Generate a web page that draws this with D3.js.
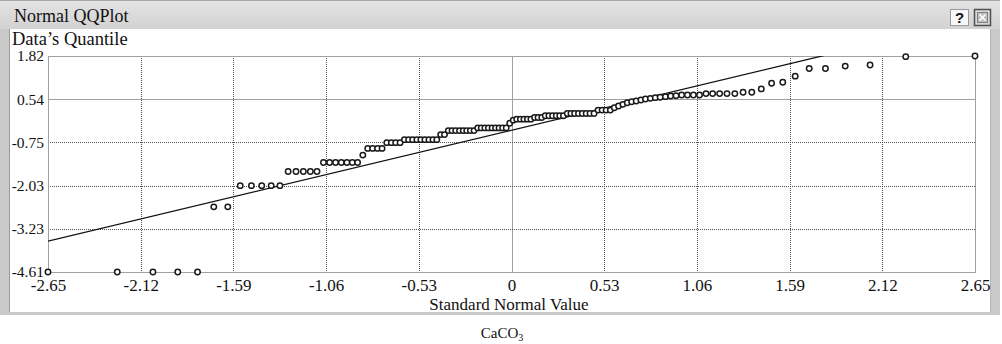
<!DOCTYPE html>
<html>
<head>
<meta charset="utf-8">
<script src="https://cdn.jsdelivr.net/npm/d3@7"></script>
<style>
  html, body { margin: 0; padding: 0; background: #ffffff; }
  svg { display: block; }
  text { font-family: "Liberation Serif", "Times New Roman", serif; fill: #111; }
</style>
</head>
<body>
<svg id="chart" width="1002" height="344"></svg>
<script>
// ---------- data ----------
const chartTitle = "Normal QQPlot";
const yAxisTitle = "Data\u2019s Quantile";
const xAxisTitle = "Standard Normal Value";

// theoretical (standard normal) quantiles of the 124 points
const normalQuantiles = [
  -2.65, -2.254, -2.050, -1.908, -1.795, -1.702, -1.622, -1.551, -1.487, -1.428,
  -1.374, -1.324, -1.277, -1.232, -1.190, -1.150, -1.112, -1.075, -1.040, -1.006,
  -0.973, -0.941, -0.910, -0.880, -0.850, -0.822, -0.794, -0.766, -0.740, -0.713,
  -0.687, -0.662, -0.637, -0.612, -0.588, -0.565, -0.541, -0.518, -0.495, -0.472,
  -0.449, -0.427, -0.405, -0.383, -0.361, -0.340, -0.319, -0.297, -0.276, -0.256,
  -0.235, -0.214, -0.193, -0.173, -0.152, -0.132, -0.111, -0.091, -0.071, -0.051,
  -0.030, -0.010,
  0.010, 0.030, 0.051, 0.071, 0.091, 0.111, 0.132, 0.152, 0.173, 0.193,
  0.214, 0.235, 0.256, 0.276, 0.297, 0.319, 0.340, 0.361, 0.383, 0.405,
  0.427, 0.449, 0.472, 0.495, 0.518, 0.541, 0.565, 0.588, 0.612, 0.637,
  0.662, 0.687, 0.713, 0.740, 0.766, 0.794, 0.822, 0.850, 0.880, 0.910,
  0.941, 0.973, 1.006, 1.040, 1.075, 1.112, 1.150, 1.190, 1.232, 1.277,
  1.324, 1.374, 1.428, 1.487, 1.551, 1.622, 1.702, 1.795, 1.908, 2.050,
  2.254, 2.65
];

// sorted sample quantiles (CaCO3)
const dataQuantiles = [
  -4.61, -4.61, -4.61, -4.61, -4.61, -2.67, -2.67, -2.04, -2.04, -2.04,
  -2.04, -2.04, -1.62, -1.62, -1.62, -1.62, -1.62, -1.35, -1.35, -1.35,
  -1.35, -1.35, -1.35, -1.35, -1.13, -0.93, -0.93, -0.93, -0.93, -0.76,
  -0.76, -0.76, -0.76, -0.67, -0.67, -0.67, -0.67, -0.67, -0.67, -0.67,
  -0.67, -0.67, -0.52, -0.52, -0.40, -0.40, -0.40, -0.40, -0.40, -0.40,
  -0.40, -0.40, -0.32, -0.32, -0.32, -0.32, -0.32, -0.32, -0.32, -0.32,
  -0.32, -0.18,
  -0.09, -0.06, -0.06, -0.06, -0.06, -0.06, -0.01, -0.01, -0.01, 0.04,
  0.04, 0.04, 0.04, 0.04, 0.04, 0.11, 0.11, 0.11, 0.11, 0.11,
  0.11, 0.11, 0.11, 0.21, 0.21, 0.21, 0.21, 0.28, 0.33, 0.38,
  0.43, 0.46, 0.48, 0.51, 0.54, 0.56, 0.58, 0.59, 0.61, 0.63,
  0.64, 0.66, 0.66, 0.66, 0.66, 0.70, 0.70, 0.70, 0.70, 0.70,
  0.74, 0.74, 0.84, 1.01, 1.04, 1.22, 1.45, 1.45, 1.52, 1.55,
  1.80, 1.82
];

// reference line  y = lineIntercept + lineSlope * z
const lineIntercept = -0.39;
const lineSlope = 1.245;

const xTickValues = [-2.65, -2.12, -1.59, -1.06, -0.53, 0, 0.53, 1.06, 1.59, 2.12, 2.65];
const xTickLabels = ["-2.65", "-2.12", "-1.59", "-1.06", "-0.53", "0", "0.53", "1.06", "1.59", "2.12", "2.65"];
const yTickLabels = ["-4.61", "-3.23", "-2.03", "-0.75", "0.54", "1.82"];
const yMin = -4.61, yMax = 1.82;
const xMin = -2.65, xMax = 2.65;

// ---------- layout ----------
const plot = { left: 48, right: 975, top: 56, bottom: 272 };

const svg = d3.select("#chart");

// window frame
svg.append("rect").attr("x", 0).attr("y", 0).attr("width", 1000).attr("height", 315)
  .attr("fill", "#c9c9c9");
const grad = svg.append("defs").append("linearGradient").attr("id", "tb")
  .attr("x1", 0).attr("y1", 0).attr("x2", 0).attr("y2", 1);
grad.append("stop").attr("offset", "0%").attr("stop-color", "#e4e4e4");
grad.append("stop").attr("offset", "100%").attr("stop-color", "#d2d2d2");
svg.append("rect").attr("x", 0).attr("y", 0).attr("width", 1000).attr("height", 29)
  .attr("fill", "url(#tb)");
svg.append("line").attr("x1", 0).attr("x2", 1000).attr("y1", 0.5).attr("y2", 0.5)
  .attr("stroke", "#a8a8a8");
// white panel
svg.append("rect").attr("x", 10).attr("y", 29).attr("width", 980).attr("height", 283)
  .attr("fill", "#ffffff");
svg.append("line").attr("x1", 9.5).attr("x2", 9.5).attr("y1", 29).attr("y2", 312)
  .attr("stroke", "#9a9a9a");
svg.append("line").attr("x1", 990.5).attr("x2", 990.5).attr("y1", 29).attr("y2", 312)
  .attr("stroke", "#b8b8b8");

// title
svg.append("text").attr("x", 14).attr("y", 21.5).attr("font-size", 18).text(chartTitle);

// buttons
const btn = svg.append("g");
btn.append("rect").attr("x", 950.5).attr("y", 9.5).attr("width", 18).attr("height", 16)
  .attr("fill", "#f8f8f8").attr("stroke", "#9a9a9a");
btn.append("text").attr("x", 959.5).attr("y", 23).attr("text-anchor", "middle")
  .attr("font-size", 15).attr("font-weight", "bold")
  .style("font-family", "Liberation Sans, Arial, sans-serif").text("?");
btn.append("rect").attr("x", 974.5).attr("y", 9.5).attr("width", 16).attr("height", 16)
  .attr("fill", "#d8d8d8").attr("stroke", "#505050").attr("stroke-width", 1.5);
btn.append("rect").attr("x", 977.5).attr("y", 12.5).attr("width", 10).attr("height", 10)
  .attr("fill", "#c0c0c0").attr("stroke", "#808080");
btn.append("path").attr("d", "M979.5,14.5 L985.5,20.5 M985.5,14.5 L979.5,20.5")
  .attr("stroke", "#ffffff").attr("stroke-width", 1.6);

// y axis title
svg.append("text").attr("x", 12).attr("y", 45).attr("font-size", 18.5).text(yAxisTitle);

// scales
const x = d3.scaleLinear().domain([xMin, xMax]).range([plot.left, plot.right]);
const y = d3.scaleLinear().domain([yMin, yMax]).range([plot.bottom, plot.top]);
const yTickValues = yTickLabels.map((_, i) => yMin + i * (yMax - yMin) / (yTickLabels.length - 1));

// grid lines
const grid = svg.append("g");
xTickValues.forEach((v, i) => {
  if (i === 0 || i === xTickValues.length - 1) return;
  const solid = v === 0;
  grid.append("line")
    .attr("x1", Math.round(x(v)) + 0.5).attr("x2", Math.round(x(v)) + 0.5)
    .attr("y1", plot.top).attr("y2", plot.bottom)
    .attr("stroke", solid ? "#a0a0a0" : "#505050")
    .attr("stroke-dasharray", solid ? null : "1,1");
});
yTickValues.forEach((v, i) => {
  if (i === 0 || i === yTickValues.length - 1) return;
  const solid = yTickLabels[i] === "0.54";
  grid.append("line")
    .attr("x1", plot.left).attr("x2", plot.right)
    .attr("y1", Math.round(y(v)) + 0.5).attr("y2", Math.round(y(v)) + 0.5)
    .attr("stroke", solid ? "#a0a0a0" : "#505050")
    .attr("stroke-dasharray", solid ? null : "1,1");
});
// frame
svg.append("rect").attr("x", plot.left + 0.5).attr("y", plot.top + 0.5)
  .attr("width", plot.right - plot.left).attr("height", plot.bottom - plot.top)
  .attr("fill", "none").attr("stroke", "#a0a0a0");

// axes (labels only)
const xAxis = d3.axisBottom(x).tickValues(xTickValues)
  .tickFormat((d, i) => xTickLabels[i]).tickSize(0).tickPadding(0);
const gx = svg.append("g").attr("transform", `translate(0,${plot.bottom})`).call(xAxis);
gx.select(".domain").remove();
gx.selectAll("text").attr("font-size", 17).attr("dy", null).attr("y", 19)
  .style("font-family", "Liberation Serif, serif").attr("fill", "#111");

const yAxis = d3.axisLeft(y).tickValues(yTickValues)
  .tickFormat((d, i) => yTickLabels[i]).tickSize(0).tickPadding(4);
const gy = svg.append("g").attr("transform", `translate(${plot.left},0)`).call(yAxis);
gy.select(".domain").remove();
gy.selectAll("text").attr("font-size", 15.5)
  .style("font-family", "Liberation Serif, serif").attr("fill", "#111");

// x axis title
svg.append("text").attr("x", 509).attr("y", 309.5).attr("text-anchor", "middle")
  .attr("font-size", 17).text(xAxisTitle);

// clip
svg.append("defs").append("clipPath").attr("id", "clip")
  .append("rect").attr("x", plot.left).attr("y", plot.top)
  .attr("width", plot.right - plot.left).attr("height", plot.bottom - plot.top);

// reference line
const lineGen = d3.line().x(d => x(d)).y(d => y(lineIntercept + lineSlope * d));
svg.append("path").attr("clip-path", "url(#clip)")
  .attr("d", lineGen([xMin, xMax]))
  .attr("fill", "none").attr("stroke", "#111").attr("stroke-width", 1.3);

// points
const pts = normalQuantiles.map((z, i) => ({ z, v: dataQuantiles[i] }));
svg.append("g").selectAll("circle").data(pts).join("circle")
  .attr("cx", d => x(d.z)).attr("cy", d => y(d.v)).attr("r", 2.7)
  .attr("fill", "#ffffff").attr("stroke", "#1a1a1a").attr("stroke-width", 1.5);

// caption
const cap = svg.append("text").attr("x", 502).attr("y", 338).attr("text-anchor", "middle")
  .attr("font-size", 15);
cap.append("tspan").text("CaCO");
cap.append("tspan").attr("font-size", 10).attr("dy", 3).text("3");
</script>
</body>
</html>
